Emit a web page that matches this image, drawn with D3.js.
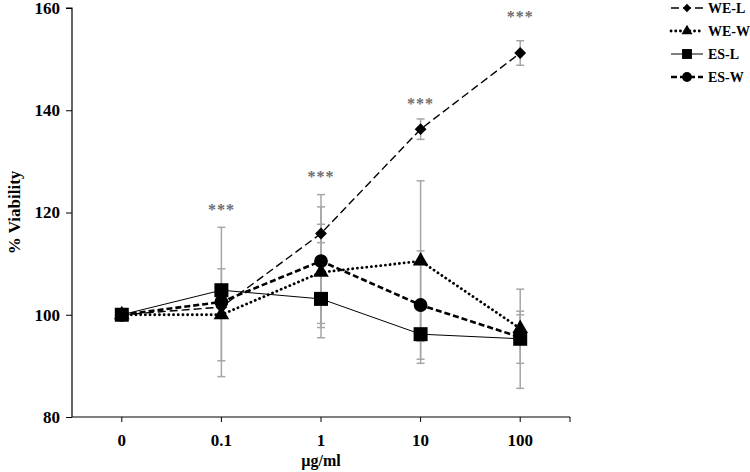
<!DOCTYPE html>
<html><head><meta charset="utf-8">
<script src="https://cdn.jsdelivr.net/npm/d3@7"></script>
<style>body{margin:0;background:#fff}svg{display:block}text{font-family:"Liberation Serif","Times New Roman","DejaVu Serif",serif;font-weight:bold}</style>
</head><body><svg id="c" width="750" height="472"></svg>
<script>
const categories = ["0", "0.1", "1", "10", "100"];
const yTicks = [80, 100, 120, 140, 160];
const seriesNames = ["WE-L", "WE-W", "ES-L", "ES-W"];
const weL = [100, 101.5, 115.9, 136.3, 151.2];
const weLErr = [0, 0, 1.8, 2.0, 2.4];
const weW = [100, 100.0, 108.3, 110.5, 97.3];
const weWErr = [0, 9.0, 12.8, 15.7, 2.7];
const esL = [100, 104.8, 103.1, 96.2, 95.3];
const esLErr = [0, 0, 4.8, 5.7, 9.7];
const esW = [100, 102.5, 110.5, 101.9, 95.6];
const esWErr = [0, 14.6, 13.0, 10.6, 5.1];
const sigLabels = ["", "***", "***", "***", "***"];
const sigY = [null, 119.6, 126.0, 140.3, 157.2];

const FONT = '"Liberation Serif","Times New Roman","DejaVu Serif",serif';
const svg = d3.select("#c");
const m = {l: 72, r: 180, t: 8, b: 55};
const W = 750, H = 472;
const x = d3.scaleBand().domain(categories).range([m.l, W - m.r]).padding(0);
const y = d3.scaleLinear().domain([80, 160]).range([H - m.b, m.t]);
const cx = c => x(c) + x.bandwidth() / 2;

const series = [
  {name: seriesNames[0], v: weL, e: weLErr, shape: "diamond", dash: "8,4", w: 1.4, cap: "butt"},
  {name: seriesNames[1], v: weW, e: weWErr, shape: "triangle", dash: "0.1,4.6", w: 2.8, cap: "round"},
  {name: seriesNames[2], v: esL, e: esLErr, shape: "square", dash: null, w: 1, cap: "butt"},
  {name: seriesNames[3], v: esW, e: esWErr, shape: "circle", dash: "6,3", w: 2.6, cap: "butt"}
];
function marker(shape, k) {
  if (shape === "diamond") return {d: d3.symbol().type(d3.symbolSquare).size(70 * k)(), rot: 45};
  if (shape === "triangle") return {d: d3.symbol().type(d3.symbolTriangle).size(105 * k)(), rot: 0};
  if (shape === "square") return {d: d3.symbol().type(d3.symbolSquare).size(196 * k)(), rot: 0};
  return {d: d3.symbol().type(d3.symbolCircle).size(150 * k)(), rot: 0};
}

// axes
const ya = svg.append("g").attr("transform", `translate(${m.l},0)`)
  .call(d3.axisLeft(y).tickValues(yTicks).tickSize(6).tickPadding(6));
const xa = svg.append("g").attr("transform", `translate(0,${H - m.b})`)
  .call(d3.axisBottom(x).tickSize(5).tickPadding(12));
svg.append("line").attr("x1", W - m.r).attr("x2", W - m.r).attr("y1", H - m.b).attr("y2", H - m.b + 5).attr("stroke", "#000");
[ya, xa].forEach(a => {
  a.attr("font-family", FONT);
  a.selectAll("path").attr("stroke", "#000").attr("stroke-width", 1.2);
  a.selectAll("line").attr("stroke", "#000");
  a.selectAll("text").attr("font-size", 17).attr("fill", "#000")
    .attr("font-family", FONT).attr("font-weight", "bold");
});
xa.select(".domain").attr("d", `M${m.l},0H${W - m.r}`);
ya.select(".domain").attr("d", `M-6,${m.t}H0V${H - m.b}`);

svg.append("text").attr("transform", `translate(20,${(m.t + H - m.b) / 2}) rotate(-90)`)
  .attr("text-anchor", "middle").attr("font-size", 17).text("% Viability");
svg.append("text").attr("x", (m.l + W - m.r) / 2).attr("y", 466)
  .attr("text-anchor", "middle").attr("font-size", 16).text("µg/ml");

// error bars
const eg = svg.append("g").attr("stroke", "#a6a6a6").attr("stroke-width", 1.5);
series.forEach(s => {
  categories.forEach((c, i) => {
    if (!s.e[i]) return;
    const X = cx(c), t = y(s.v[i] + s.e[i]), b = y(s.v[i] - s.e[i]);
    eg.append("line").attr("x1", X).attr("x2", X).attr("y1", t).attr("y2", b);
    eg.append("line").attr("x1", X - 4).attr("x2", X + 4).attr("y1", t).attr("y2", t);
    eg.append("line").attr("x1", X - 4).attr("x2", X + 4).attr("y1", b).attr("y2", b);
  });
});

// lines
const line = d3.line().x((d, i) => cx(categories[i])).y(d => y(d));
series.forEach(s => {
  svg.append("path").attr("d", line(s.v)).attr("fill", "none").attr("stroke", "#000")
    .attr("stroke-width", s.w).attr("stroke-dasharray", s.dash).attr("stroke-linecap", s.cap);
});
// markers
series.forEach(s => {
  s.v.forEach((v, i) => {
    const mk = marker(s.shape, 1);
    svg.append("path").attr("d", mk.d)
      .attr("transform", `translate(${cx(categories[i])},${y(v)}) rotate(${mk.rot})`).attr("fill", "#000");
  });
});

// significance
categories.forEach((c, i) => {
  if (!sigLabels[i]) return;
  svg.append("text").attr("x", cx(c)).attr("y", y(sigY[i])).attr("text-anchor", "middle")
    .attr("font-size", 16).attr("fill", "#6f6f6f").attr("font-weight", "normal")
    .attr("letter-spacing", 1).text(sigLabels[i]);
});

// legend
const lg = svg.append("g");
series.forEach((s, i) => {
  const yy = 8 + i * 23;
  lg.append("line").attr("x1", 671).attr("x2", 703).attr("y1", yy).attr("y2", yy)
    .attr("stroke", "#000").attr("stroke-width", s.w).attr("stroke-dasharray", s.dash).attr("stroke-linecap", s.cap);
  const mk = marker(s.shape, 0.5);
  lg.append("path").attr("d", mk.d).attr("transform", `translate(687,${yy}) rotate(${mk.rot})`);
  lg.append("text").attr("x", 708).attr("y", yy + 5).attr("font-size", 14).text(s.name);
});
</script></body></html>
